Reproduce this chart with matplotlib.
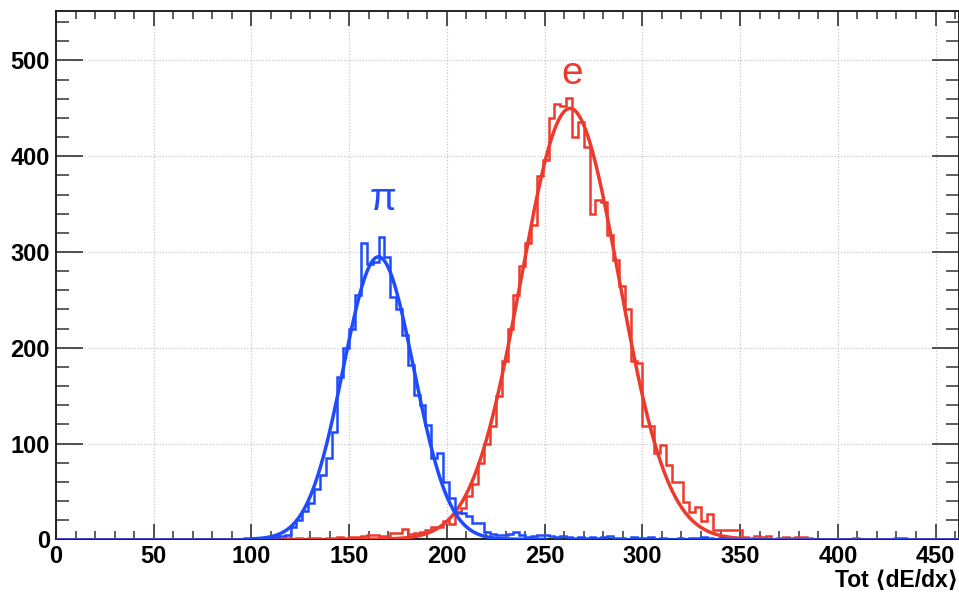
import numpy as np
import matplotlib
matplotlib.use("Agg")
import matplotlib.pyplot as plt
from matplotlib.ticker import MultipleLocator

# ---- histogram binning: 3-unit bins from 0 to 462 ----
bin_lo = 0
bin_hi = 462
bin_w = 3

# pion counts per bin (left edges 0, 3, 6, ...)
pion_counts = [
    0, 0, 0, 0, 0, 0, 0, 0, 0, 0,            # 0 - 27
    0, 0, 0, 0, 0, 0, 0, 0, 0, 0,            # 30 - 57
    0, 0, 0, 0, 0, 0, 0, 0, 0, 0,            # 60 - 87
    0, 0, 1, 1, 0, 1, 2, 2, 3, 4,            # 90 - 117
    13, 20, 30, 38, 53, 67, 85, 112, 170, 200,   # 120 - 147
    220, 255, 309, 288, 290, 316, 295, 253, 241, 213,  # 150 - 177
    182, 151, 140, 119, 85, 90, 60, 43, 29, 27,  # 180 - 207
    24, 17, 17, 8, 6, 5, 5, 6, 8, 4,          # 210 - 237
    2, 3, 4, 4, 3, 2, 3, 2, 1, 2,            # 240 - 267
    1, 2, 1, 2, 3, 1, 1, 0, 2, 1,            # 270 - 297
    1, 2, 0, 1, 0, 0, 1, 0, 1, 1,            # 300 - 327
    2, 1, 0, 1, 0, 0, 0, 0, 0, 0,            # 330 - 357
    0, 0, 0, 0, 0, 0, 0, 0, 0, 0,            # 360 - 387
    0, 0, 0, 0, 0, 0, 0, 0, 0, 0,            # 390 - 417
    0, 0, 0, 1, 1, 0, 0, 0, 0, 0,            # 420 - 447
    0, 0, 0, 0,                              # 450 - 459
]

# electron counts per bin (left edges 0, 3, 6, ...)
electron_counts = [
    0, 0, 0, 0, 0, 0, 0, 0, 0, 0,            # 0 - 27
    0, 0, 0, 0, 0, 0, 0, 0, 0, 0,            # 30 - 57
    0, 0, 0, 0, 0, 0, 0, 0, 0, 0,            # 60 - 87
    0, 0, 0, 0, 0, 0, 0, 0, 0, 1,            # 90 - 117
    0, 1, 0, 1, 1, 0, 1, 1, 2, 1,            # 120 - 147
    2, 2, 3, 5, 5, 3, 3, 7, 7, 11,           # 150 - 177
    6, 7, 8, 10, 13, 13, 19, 16, 27, 33,     # 180 - 207
    45, 58, 80, 100, 118, 150, 186, 220, 255, 285,   # 210 - 237
    309, 328, 379, 396, 440, 455, 452, 461, 420, 436,  # 240 - 267
    410, 340, 354, 352, 318, 292, 264, 240, 186, 184,  # 270 - 297
    118, 118, 90, 98, 78, 60, 60, 39, 29, 34,  # 300 - 327
    19, 26, 10, 10, 10, 10, 10, 2, 1, 3,     # 330 - 357
    2, 3, 0, 1, 2, 1, 2, 2, 1, 0,            # 360 - 387
    0, 0, 0, 0, 0, 0, 1, 0, 0, 0,            # 390 - 417
    0, 0, 0, 0, 0, 0, 0, 0, 0, 0,            # 420 - 447
    0, 0, 0, 0,                              # 450 - 459
]

# Gaussian fit results: (amplitude, mean, sigma, fit range)
pion_fit = (295.0, 165.0, 18.0, (100.0, 250.0))
electron_fit = (450.0, 263.0, 25.0, (150.0, 350.0))

x_ticks = [0, 50, 100, 150, 200, 250, 300, 350, 400, 450]
y_ticks = [0, 100, 200, 300, 400, 500]
x_title = "Tot \u27e8dE/dx\u27e9"

BLUE = "#1f4bff"
RED = "#ee3a2c"
FONT = ["Liberation Sans", "DejaVu Sans"]

plt.rcParams["font.family"] = FONT

edges = np.arange(bin_lo, bin_hi + bin_w, bin_w)

fig = plt.figure(figsize=(9.59, 5.93), dpi=100)
ax = fig.add_axes([56 / 959, 53.7 / 593, 903 / 959, 528.6 / 593])


def gauss_curve(params, n=400):
    amp, mu, sig, (lo, hi) = params
    xs = np.linspace(lo, hi, n)
    return xs, amp * np.exp(-0.5 * ((xs - mu) / sig) ** 2)


ax.stairs(electron_counts, edges, color=RED, lw=1.8, zorder=3)
xe, ye = gauss_curve(electron_fit)
ax.plot(xe, ye, color=RED, lw=2.5, zorder=4)

ax.stairs(pion_counts, edges, color=BLUE, lw=1.8, zorder=5)
xp, yp = gauss_curve(pion_fit)
ax.plot(xp, yp, color=BLUE, lw=2.5, zorder=6)

ax.set_xlim(bin_lo, bin_hi)
ax.set_ylim(0, 552)

ax.set_xticks(x_ticks)
ax.set_yticks(y_ticks)
ax.xaxis.set_minor_locator(MultipleLocator(10))
ax.yaxis.set_minor_locator(MultipleLocator(20))

ax.tick_params(axis="x", which="major", direction="in", length=11, width=1.2,
               color="#333333", top=True, pad=4, labelsize=17)
ax.tick_params(axis="x", which="minor", direction="in", length=6, width=1.1,
               color="#333333", top=True)
ax.tick_params(axis="y", which="major", direction="in", length=19.5, width=1.2,
               color="#333333", right=True, pad=4.5, labelsize=17)
ax.tick_params(axis="y", which="minor", direction="in", length=9.5, width=1.1,
               color="#333333", right=True)
for lab in ax.get_xticklabels() + ax.get_yticklabels():
    lab.set_fontweight("bold")

for sp in ax.spines.values():
    sp.set_color("#222222")
    sp.set_linewidth(1.4)

ax.grid(True, which="major", color="#c8c8c8", lw=0.9, ls=(0, (1, 1.5)))
ax.set_axisbelow(True)

ax.set_xlabel(x_title, fontsize=16.5, fontweight="bold", loc="right")
ax.xaxis.set_label_coords(0.999, -0.056)

ax.text(167.5, 354, "\u03c0", color=BLUE, fontsize=28, ha="center", va="center")
ax.text(264, 486, "e", color=RED, fontsize=28, ha="center", va="center")

fig.savefig("out.png", dpi=100)
